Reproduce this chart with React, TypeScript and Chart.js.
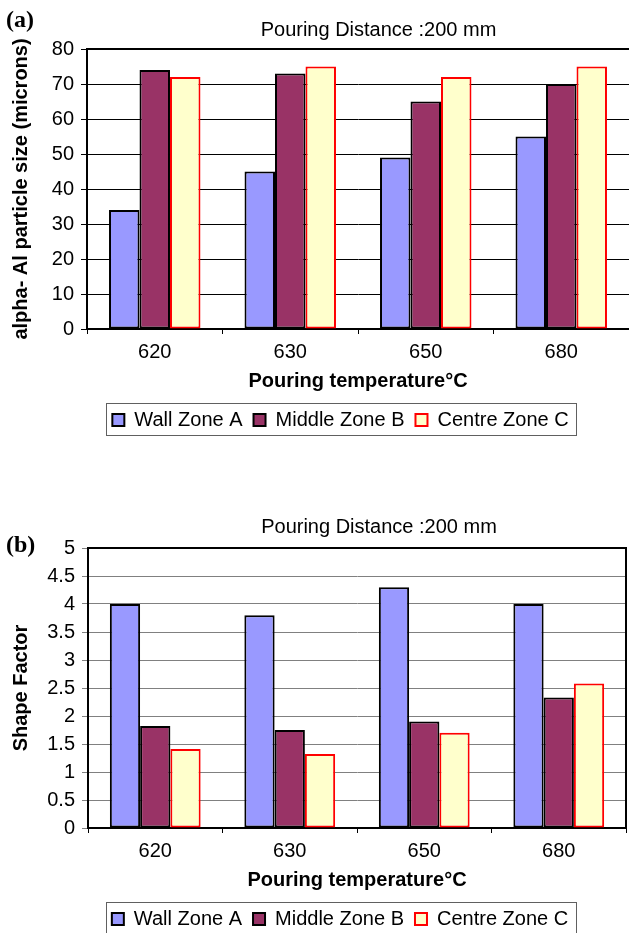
import React, { useEffect, useRef } from 'react';
import { Chart, registerables } from 'chart.js';

Chart.register(...registerables);

// ---------- data ----------
const categories = ['620', '630', '650', '680'];
const seriesNames = ['Wall Zone A', 'Middle Zone B', 'Centre Zone C'];

const sizeWall = [34, 45, 49, 55];
const sizeMiddle = [74, 73, 65, 70];
const sizeCentre = [72, 75, 72, 75];

const shapeWall = [4.0, 3.8, 4.3, 4.0];
const shapeMiddle = [1.82, 1.75, 1.9, 2.33];
const shapeCentre = [1.41, 1.32, 1.7, 2.58];

const chartTitle = 'Pouring Distance :200 mm';
const xTitle = 'Pouring temperature°C';
const yTitleA = 'alpha- Al particle size (microns)';
const yTitleB = 'Shape Factor';

// ---------- styles ----------
const FONT = "'Liberation Sans', Arial, Helvetica, sans-serif";
const SERIF = "'Liberation Serif', 'Times New Roman', serif";
const fills = ['#9999FF', '#993366', '#FFFFCC'];
const borders = ['#000000', '#000000', '#FF0000'];
const FS = 20;
const LEGEND_BOX = 12;
const LEGEND_PAD = 11;

const decorPlugin = {
  id: 'decor',
  afterLayout(chart: any, _args: any, opts: any) {
    if (chart.titleBlock && opts.titleShift) {
      chart.titleBlock.left += opts.titleShift;
      chart.titleBlock.right += opts.titleShift;
    }
    if (chart.legend && opts.legendShift) {
      chart.legend.left += opts.legendShift;
      chart.legend.right += opts.legendShift;
    }
  },
  afterDraw(chart: any, _args: any, opts: any) {
    const { ctx, chartArea: ca } = chart;
    ctx.save();
    // frame
    ctx.strokeStyle = '#000';
    ctx.lineWidth = 2;
    ctx.beginPath();
    ctx.moveTo(ca.left, ca.top);
    ctx.lineTo(ca.right, ca.top);
    if (opts.rightBorder) {
      ctx.moveTo(ca.right, ca.top - 1);
      ctx.lineTo(ca.right, ca.bottom);
    }
    ctx.stroke();
    // legend frame
    const lg = chart.legend;
    if (lg && lg.legendItems) {
      ctx.font = `${FS}px ${FONT}`;
      let sum = 0;
      lg.legendItems.forEach((it: any) => {
        sum += LEGEND_BOX + FS / 2 + ctx.measureText(it.text).width;
      });
      const n = lg.legendItems.length;
      const start = (lg.left + LEGEND_PAD + lg.right - (sum + n * LEGEND_PAD)) / 2;
      const end = start + sum + (n - 1) * LEGEND_PAD;
      const cy = lg.top + LEGEND_PAD + Math.max(FS, LEGEND_BOX) / 2;
      ctx.lineWidth = 1;
      ctx.strokeStyle = '#606060';
      ctx.strokeRect(Math.round(start - 6) + 0.5, Math.round(cy - 17) + 0.5, Math.round(end - start + 14), 32);
    }
    // panel letter
    ctx.fillStyle = '#000';
    ctx.font = `bold 24px ${SERIF}`;
    ctx.textBaseline = 'middle';
    ctx.textAlign = 'left';
    ctx.fillText(opts.panel, 6, opts.panelY);
    ctx.restore();
  },
};

const fmtTick = (v: any) => String(Number(Number(v).toFixed(2)));

function makeConfig(p: any) {
  return {
    type: 'bar',
    data: {
      labels: categories,
      datasets: seriesNames.map((name, i) => ({
        label: name,
        data: p.series[i],
        backgroundColor: fills[i],
        borderColor: borders[i],
        borderWidth: 2,
        borderSkipped: false,
        categoryPercentage: 0.675,
        barPercentage: 1,
      })),
    },
    options: {
      responsive: false,
      maintainAspectRatio: false,
      animation: false,
      devicePixelRatio: 1,
      layout: { padding: { left: 0, right: p.padRight, top: 0, bottom: p.padBottom } },
      plugins: {
        title: {
          display: true,
          text: chartTitle,
          color: '#000',
          font: { family: FONT, size: FS, weight: 'normal' },
          padding: { top: p.titleTop, bottom: p.titleBottom },
        },
        legend: {
          position: 'bottom',
          labels: {
            color: '#000',
            font: { family: FONT, size: FS },
            boxWidth: LEGEND_BOX,
            boxHeight: LEGEND_BOX,
            padding: LEGEND_PAD,
          },
        },
        tooltip: { enabled: false },
        decor: {
          titleShift: p.titleShift,
          legendShift: p.legendShift,
          rightBorder: p.rightBorder,
          panel: p.panel,
          panelY: p.panelY,
        },
      },
      scales: {
        x: {
          grid: {
            display: true,
            drawOnChartArea: false,
            drawTicks: true,
            tickLength: 5,
            color: '#000',
            lineWidth: 1,
            offset: true,
          },
          border: { display: true, color: '#000', width: 2 },
          ticks: { color: '#000', font: { family: FONT, size: FS }, padding: 6, maxRotation: 0 },
          title: {
            display: true,
            text: xTitle,
            color: '#000',
            font: { family: FONT, size: FS, weight: 'bold' },
            padding: { top: 0, bottom: 6 },
          },
          afterFit: (s: any) => {
            s.height = 70;
          },
        },
        y: {
          min: 0,
          max: p.max,
          ticks: {
            stepSize: p.step,
            color: '#000',
            font: { family: FONT, size: FS },
            padding: 7,
            callback: fmtTick,
          },
          grid: { color: p.gridColor, lineWidth: 1, tickLength: 6 },
          border: { display: true, color: '#000', width: 2 },
          title: {
            display: true,
            text: p.yTitle,
            color: '#000',
            font: { family: FONT, size: FS, weight: 'bold' },
            padding: { top: 9, bottom: 0 },
          },
          afterFit: (s: any) => {
            s.width = p.yWidth;
          },
        },
      },
    },
    plugins: [decorPlugin],
  };
}

const panelA = {
  series: [sizeWall, sizeMiddle, sizeCentre],
  max: 80,
  step: 10,
  yTitle: yTitleA,
  gridColor: '#000000',
  yWidth: 87,
  padRight: 0,
  padBottom: 5,
  titleTop: 18,
  titleBottom: 7,
  titleShift: 64,
  legendShift: 26,
  rightBorder: false,
  panel: '(a)',
  panelY: 21,
};

const panelB = {
  series: [shapeWall, shapeMiddle, shapeCentre],
  max: 5,
  step: 0.5,
  yTitle: yTitleB,
  gridColor: '#808080',
  yWidth: 88,
  padRight: 3,
  padBottom: 0,
  titleTop: 21,
  titleBottom: 9,
  titleShift: 66,
  legendShift: 27,
  rightBorder: true,
  panel: '(b)',
  panelY: 52,
};

function Panel({ cfg, top, height }: { cfg: any; top: number; height: number }) {
  const ref = useRef<HTMLCanvasElement | null>(null);
  useEffect(() => {
    const chart = new Chart(ref.current as HTMLCanvasElement, makeConfig(cfg) as any);
    return () => chart.destroy();
  }, [cfg]);
  return (
    <canvas
      ref={ref}
      width={629}
      height={height}
      style={{ position: 'absolute', left: 0, top, width: 629, height, display: 'block' }}
    />
  );
}

export default function App() {
  return (
    <div
      style={{
        position: 'absolute',
        left: 0,
        top: 0,
        width: 629,
        height: 933,
        overflow: 'hidden',
        background: '#fff',
      }}
    >
      <Panel cfg={panelA} top={0} height={445} />
      <Panel cfg={panelB} top={494} height={445} />
    </div>
  );
}
